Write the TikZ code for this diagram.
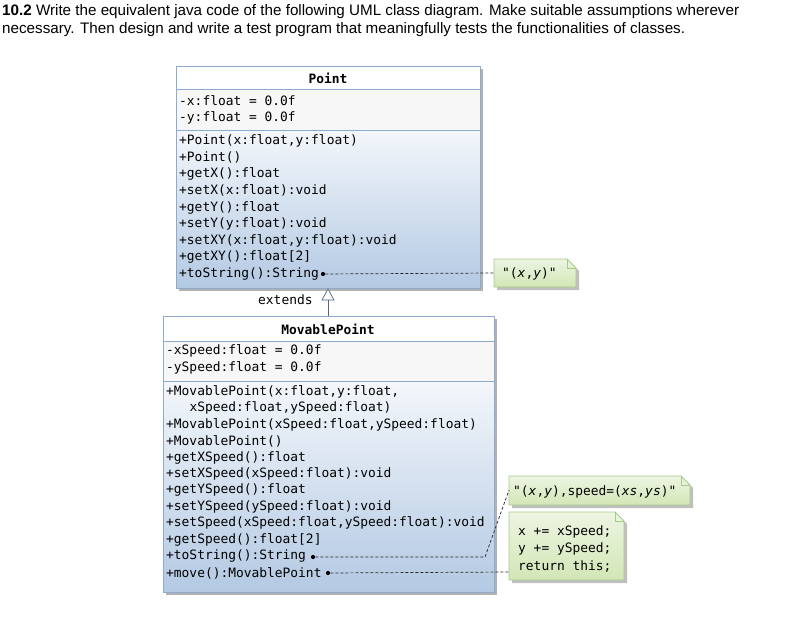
\documentclass[tikz,border=0pt]{standalone}
\usepackage{fontspec}
\setmainfont{Liberation Sans}
\newfontfamily\mono{DejaVu Sans Mono}
\usetikzlibrary{shadows}
\definecolor{bord}{HTML}{8FAACF}
\definecolor{blu}{HTML}{B3C9E3}
\definecolor{nbord}{HTML}{A9C98C}
\definecolor{ngreen}{HTML}{D2E6B6}
\tikzset{
  mem/.style={anchor=west,inner sep=0pt,font=\mono\fontsize{12.9}{14}\selectfont},
  ttl/.style={anchor=center,inner sep=0pt,font=\mono\bfseries\fontsize{12.9}{14}\selectfont},
  sect/.style={draw=bord,line width=0.8pt},
  dashln/.style={dash pattern=on 3pt off 2pt,line width=0.7pt,black!85},
  dot/.style={circle,fill=black,inner sep=0pt,minimum size=4.2pt},
  note/.style={draw=nbord,line width=0.8pt,top color=ngreen!40,bottom color=ngreen},
}
\newcommand{\notebox}[4]{% x1 y1 x2 y2
  \fill[black!25] (#1+3,#2+3) -- (#3-6,#2+3) -- (#3+3,#2+12) -- (#3+3,#4+3) -- (#1+3,#4+3) -- cycle;
  \path[note] (#1,#2) -- (#3-9,#2) -- (#3,#2+9) -- (#3,#4) -- (#1,#4) -- cycle;
  \draw[nbord,line width=0.8pt] (#3-9,#2) -- (#3-9,#2+9) -- (#3,#2+9);}
\begin{document}
\begin{tikzpicture}[x=1pt,y=-1pt]
\useasboundingbox (0,0) rectangle (792,618);
% title
\node[anchor=west,inner sep=0pt,font=\fontsize{15.2}{17}\selectfont] (t1) at (2,12) {\textbf{10.2} Write the equivalent java code of the following UML class diagram. Make suitable assumptions wherever};
\node[anchor=west,inner sep=0pt,font=\fontsize{15.2}{17}\selectfont] (t2) at (2,30) {necessary. Then design and write a test program that meaningfully tests the functionalities of classes.};
% Point class
\fill[black!30] (179,69) rectangle (483,291);
\fill[white] (176,66) rectangle (480,89);
\fill[black!3] (176,89) rectangle (480,130);
\shade[top color=white!85!blu,bottom color=blu] (176,130) rectangle (480,288);
\draw[sect] (176,66) rectangle (480,288);
\draw[sect] (176,89) -- (480,89);
\draw[sect] (176,130) -- (480,130);
\node[ttl] (pt) at (328,78) {Point};
\node[mem] (pa1) at (179,101) {-x:float = 0.0f};
\node[mem] (pa2) at (179,118) {-y:float = 0.0f};
\foreach \t [count=\i] in {+Point(x:float{,}y:float),+Point(),+getX():float,+setX(x:float):void,+getY():float,+setY(y:float):void,+setXY(x:float{,}y:float):void,+getXY():float[2]}
  \node[mem] (pm\i) at (179,124.5+16.6*\i) {\t};
\node[mem] (pts) at (179,274) {+toString():String};
\node[dot] (d1) at (323,274) {};
% MovablePoint class
\fill[black!30] (166,319) rectangle (497,595);
\fill[white] (163,316) rectangle (494,341);
\fill[black!3] (163,341) rectangle (494,381);
\shade[top color=white!85!blu,bottom color=blu] (163,381) rectangle (494,592);
\draw[sect] (163,316) rectangle (494,592);
\draw[sect] (163,341) -- (494,341);
\draw[sect] (163,381) -- (494,381);
\node[ttl] (mp) at (328,329) {MovablePoint};
\node[mem] (ma1) at (166,351) {-xSpeed:float = 0.0f};
\node[mem] (ma2) at (166,368) {-ySpeed:float = 0.0f};
\foreach \t [count=\i] in {+MovablePoint(x:float{,}y:float{,},\ \ \ xSpeed:float{,}ySpeed:float),+MovablePoint(xSpeed:float{,}ySpeed:float),+MovablePoint(),+getXSpeed():float,+setXSpeed(xSpeed:float):void,+getYSpeed():float,+setYSpeed(ySpeed:float):void,+setSpeed(xSpeed:float{,}ySpeed:float):void,+getSpeed():float[2],+toString():String}
  \node[mem] (mm\i) at (166,375.6+16.4*\i) {\t};
\node[mem] (mmv) at (166,573) {+move():MovablePoint};
\node[dot] (d2) at (313,557) {};
\node[dot] (d3) at (328,573) {};
% inheritance
\coordinate (tip) at (328,289);
\draw[bord!60!black,line width=0.7pt,fill=white] (tip) -- (334,300) -- (322,300) -- cycle;
\draw[bord!60!black,line width=0.7pt] (328,300) -- (328,316);
\node[mem] (ext) at (258,300) {extends};
% notes
\notebox{494}{259}{576}{287}
\node[mem] (n1) at (502,274) {"(\textit{x},\textit{y})"};
\notebox{509}{476}{690}{505}
\node[mem] (n2) at (513,492) {"(\textit{x},\textit{y}),speed=(\textit{xs},\textit{ys})"};
\notebox{509}{512}{624}{580}
\node[mem] (n3a) at (518,532) {x += xSpeed;};
\node[mem] (n3b) at (518,549) {y += ySpeed;};
\node[mem] (n3c) at (518,566) {return this;};
\coordinate (c2) at (485,557);
\coordinate (e1) at (494,273);
\coordinate (e2) at (509,490);
\coordinate (e3) at (509,572);
\draw[dashln] (d1) -- (e1);
\draw[dashln] (d2) -- (c2) -- (e2);
\draw[dashln] (d3) -- (e3);
\end{tikzpicture}
\end{document}
